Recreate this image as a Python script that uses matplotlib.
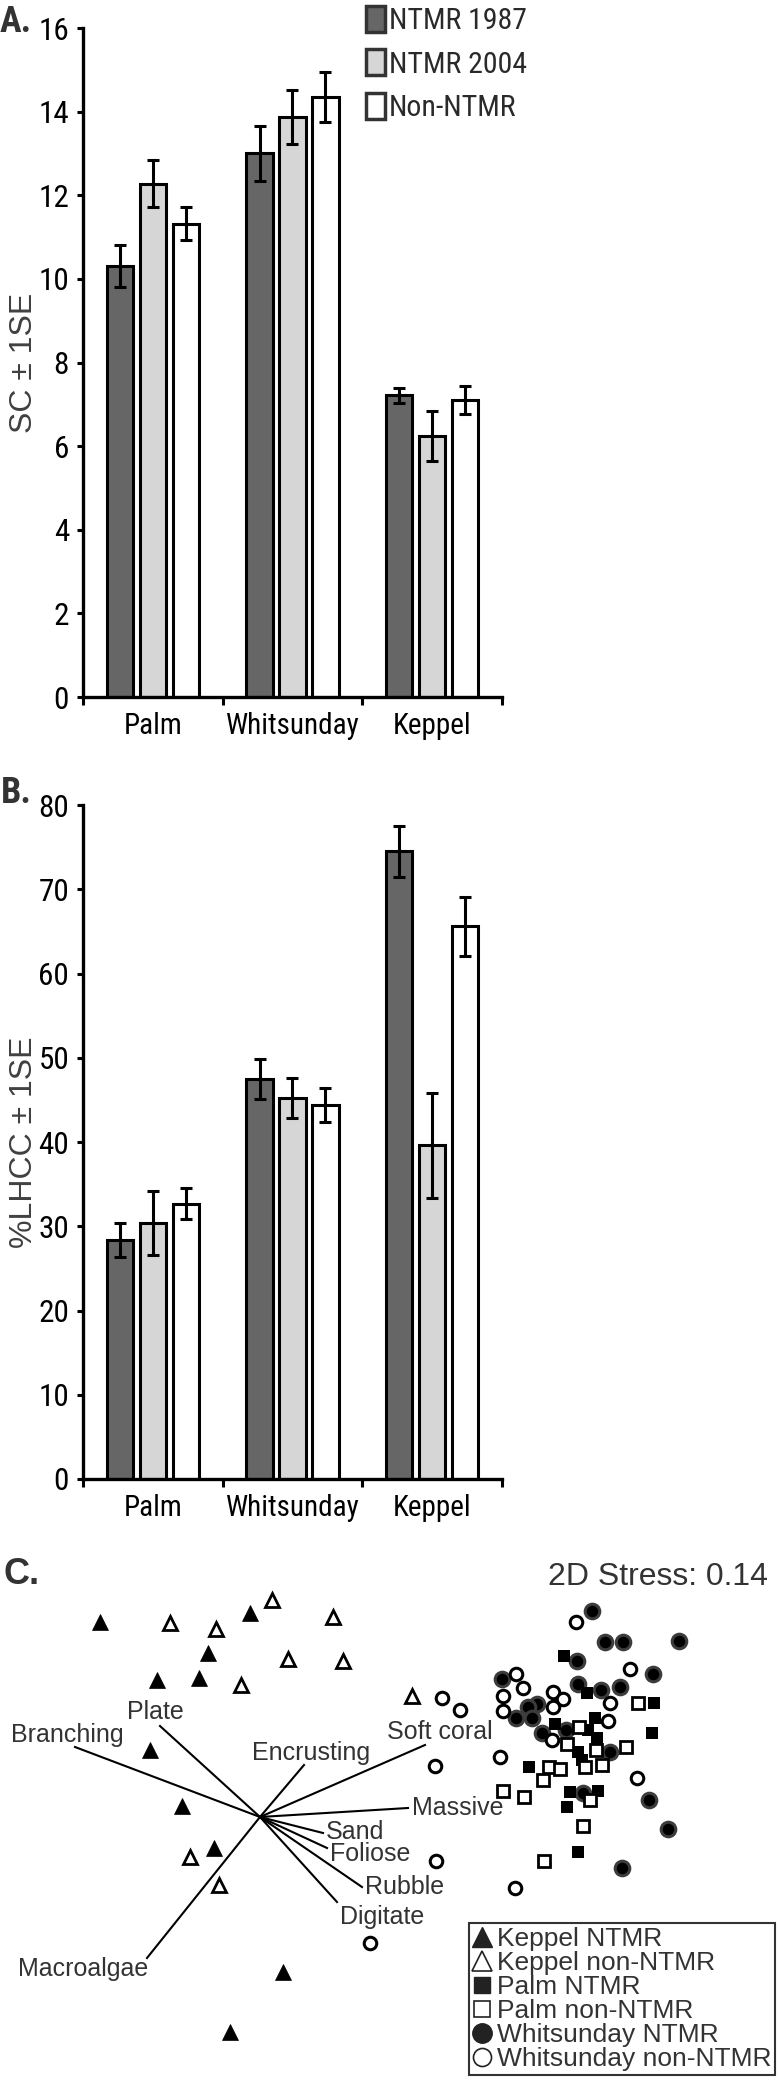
import numpy as np
import matplotlib
matplotlib.use('Agg')
import matplotlib.pyplot as plt
from matplotlib import font_manager
from matplotlib.lines import Line2D
from matplotlib.patches import Patch

# ---- data ----
regions = ['Palm', 'Whitsunday', 'Keppel']
series = ['NTMR 1987', 'NTMR 2004', 'Non-NTMR']

sc_mean = {'NTMR 1987': [10.3, 13.0, 7.22],
           'NTMR 2004': [12.28, 13.87, 6.25],
           'Non-NTMR': [11.32, 14.34, 7.1]}
sc_se = {'NTMR 1987': [0.5, 0.65, 0.18],
         'NTMR 2004': [0.57, 0.65, 0.6],
         'Non-NTMR': [0.4, 0.6, 0.34]}

lhcc_mean = {'NTMR 1987': [28.4, 47.5, 74.5],
             'NTMR 2004': [30.4, 45.2, 39.6],
             'Non-NTMR': [32.7, 44.4, 65.6]}
lhcc_se = {'NTMR 1987': [2.0, 2.4, 3.0],
           'NTMR 2004': [3.8, 2.4, 6.2],
           'Non-NTMR': [1.8, 2.0, 3.5]}

# nMDS ordination (arbitrary units)
keppel_ntmr_x = [-1.60, -0.10, -0.52, -1.03, -0.61, -1.10, -0.78, -0.46, 0.23, -0.30]
keppel_ntmr_y = [1.95, 2.04, 1.64, 1.37, 1.39, 0.67, 0.11, -0.31, -1.55, -2.15]
keppel_non_x = [-0.90, -0.44, 0.12, 0.73, 0.28, 0.83, -0.19, 1.52, -0.70, -0.41]
keppel_non_y = [1.94, 1.88, 2.17, 2.00, 1.58, 1.56, 1.32, 1.21, -0.40, -0.68]
palm_ntmr_x = [3.04, 3.27, 3.94, 3.35, 2.95, 3.28, 3.37, 3.92, 3.18, 3.22, 2.69,
               3.10, 3.38, 3.07, 3.18]
palm_ntmr_y = [1.61, 1.24, 1.14, 0.99, 0.93, 0.87, 0.79, 0.84, 0.65, 0.57, 0.50,
               0.25, 0.26, 0.10, -0.35]
palm_non_x = [3.78, 3.19, 3.07, 3.36, 3.66, 2.89, 3.00, 3.25, 3.42, 2.83, 2.43,
              2.64, 3.30, 3.23, 2.84]
palm_non_y = [1.14, 0.90, 0.73, 0.67, 0.70, 0.50, 0.48, 0.50, 0.52, 0.37, 0.26,
              0.20, 0.17, -0.09, -0.44]
whit_ntmr_x = [3.32, 3.45, 3.63, 4.19, 3.17, 3.93, 2.42, 3.18, 3.41, 3.60, 2.77,
               2.68, 2.56, 2.72, 2.82, 3.06, 3.50, 3.23, 3.89, 4.08, 3.62]
whit_ntmr_y = [2.06, 1.75, 1.75, 1.76, 1.56, 1.43, 1.38, 1.33, 1.27, 1.30, 1.13,
               1.10, 0.99, 0.99, 0.84, 0.87, 0.65, 0.24, 0.17, -0.12, -0.51]
whit_non_x = [3.16, 3.70, 2.56, 2.63, 2.43, 2.43, 2.93, 3.03, 2.93, 3.50, 3.48,
              1.82, 2.00, 2.40, 1.75, 3.77, 2.92, 1.76, 2.55, 1.10]
whit_non_y = [1.95, 1.48, 1.43, 1.29, 1.21, 1.06, 1.25, 1.18, 1.10, 1.14, 0.96,
              1.19, 1.07, 0.60, 0.51, 0.39, 0.77, -0.44, -0.71, -1.26]

vec_names = ['Branching', 'Plate', 'Encrusting', 'Soft coral', 'Massive',
             'Sand', 'Foliose', 'Rubble', 'Digitate', 'Macroalgae']
vec_x = [-1.85, -1.00, 0.44, 1.65, 1.48, 0.63, 0.67, 1.02, 0.77, -1.13]
vec_y = [0.70, 0.91, 0.52, 0.72, 0.09, -0.16, -0.31, -0.70, -0.85, -1.41]
stress = 0.14

# ---- fonts ----
sans = ['Liberation Sans', 'DejaVu Sans']
installed = {f.name for f in font_manager.fontManager.ttflist}
narrow_name, narrow_stretch = None, 'normal'
for n in ['Liberation Sans Narrow', 'Arial Narrow', 'Roboto Condensed',
          'Open Sans Condensed', 'DejaVu Sans Condensed']:
    if n in installed:
        narrow_name = n
        break
if narrow_name is None:
    for f in font_manager.fontManager.ttflist:
        if f.stretch in ('condensed', 'semi-condensed') and f.style == 'normal':
            narrow_name, narrow_stretch = f.name, f.stretch
            break
if narrow_name is None:
    nfam, nsc = sans, 0.9
else:
    nfam, nsc = [narrow_name] + sans, 1.0

# ---- style ----
W, H = 780, 2082
fig = plt.figure(figsize=(W / 100, H / 100), dpi=100)
grey = '#333333'
fills = {'NTMR 1987': '#666666', 'NTMR 2004': '#d6d6d6', 'Non-NTMR': '#ffffff'}


def fig_rect(x0, y0, x1, y1):
    return [x0 / W, 1 - y1 / H, (x1 - x0) / W, (y1 - y0) / H]


def bar_panel(y0, y1, means, ses, ymax, ystep, ylabel):
    ax = fig.add_axes(fig_rect(83, y0, 502, y1))
    x = np.arange(len(regions))
    step, width = 0.236, 0.19
    for i, s in enumerate(series):
        pos = x + (i - 1) * step
        ax.bar(pos, means[s], width, color=fills[s], edgecolor='black',
               linewidth=2.2, zorder=2)
        ax.errorbar(pos, means[s], yerr=ses[s], fmt='none', ecolor='black',
                    elinewidth=2.2, capsize=4, capthick=2.2, zorder=3)
    ax.set_xlim(-0.5, len(regions) - 0.5)
    ax.set_ylim(0, ymax)
    ax.set_yticks(np.arange(0, ymax + 0.1, ystep))
    ax.set_xticks(np.arange(len(regions) + 1) - 0.5)
    ax.set_xticklabels([])
    ax.set_xticks(x, minor=True)
    ax.set_xticklabels(regions, minor=True, family=nfam, stretch=narrow_stretch,
                       fontsize=21 * nsc)
    ax.tick_params(axis='x', which='minor', length=0, pad=11)
    ax.tick_params(axis='x', which='major', direction='out', length=6, width=2.2)
    ax.tick_params(axis='y', direction='out', length=4, width=2.2, pad=6)
    for lab in ax.get_yticklabels():
        lab.set_family(nfam)
        lab.set_stretch(narrow_stretch)
        lab.set_fontsize(22.5 * nsc)
    for sp in ['top', 'right']:
        ax.spines[sp].set_visible(False)
    for sp in ['left', 'bottom']:
        ax.spines[sp].set_linewidth(2.4)
    fig.text(24 / W, 1 - (y0 + y1) / 2 / H, ylabel, rotation=90, ha='center',
             va='center', family=sans, fontsize=23, color='#404040')
    return ax


axA = bar_panel(28, 697, sc_mean, sc_se, 16, 2, 'SC ± 1SE')
axB = bar_panel(805, 1479, lhcc_mean, lhcc_se, 80, 10, '%LHCC ± 1SE')

handles = [Patch(facecolor=fills[s], edgecolor=grey, linewidth=2.5) for s in series]
axA.legend(handles, series, loc='upper left', bbox_to_anchor=(366 / W, 1 - 6 / H),
           bbox_transform=fig.transFigure, frameon=False,
           prop={'family': nfam, 'stretch': narrow_stretch, 'size': 21.5 * nsc},
           labelcolor='#2a2a2a', handlelength=0.62, handleheight=0.95,
           handletextpad=0.15, labelspacing=0.48, borderpad=0, borderaxespad=0)

fig.text(16 / W, 1 - 22 / H, 'A.', family=nfam, stretch=narrow_stretch,
         weight='bold', fontsize=26, color=grey, ha='center', va='center')
fig.text(16 / W, 1 - 793 / H, 'B.', family=nfam, stretch=narrow_stretch,
         weight='bold', fontsize=26, color=grey, ha='center', va='center')
fig.text(22 / W, 1 - 1574 / H, 'C.', family=sans, weight='bold', fontsize=26,
         color=grey, ha='center', va='center')

# ---- panel C: nMDS ----
axC = fig.add_axes(fig_rect(0, 1540, 780, 2082))
axC.set_xlim(-2.6, 5.2)
axC.set_ylim(-2.65, 2.77)
axC.axis('off')

label_place = {  # ha, dx, dy (pixels)
    'Branching': ('center', -8, 12),
    'Plate': ('center', -5, 14),
    'Encrusting': ('center', 7, 12),
    'Soft coral': ('center', 15, 13),
    'Massive': ('left', 4, 0),
    'Sand': ('left', 3, 1),
    'Foliose': ('left', 3, -6),
    'Rubble': ('left', 3, 0),
    'Digitate': ('left', 3, -15),
    'Macroalgae': ('right', 1, -11),
}
for name, vx, vy in zip(vec_names, vec_x, vec_y):
    axC.plot([0, vx], [0, vy], color='black', linewidth=1.5, zorder=1)
    ha, dx, dy = label_place[name]
    axC.annotate(name, (vx, vy), xytext=(dx, dy), textcoords='offset pixels',
                 ha=ha, va='center', family=sans, fontsize=18, color=grey)

axC.plot(keppel_ntmr_x, keppel_ntmr_y, '^', ms=11, color='black', mec='black',
         mew=0.5, ls='none', zorder=3)
axC.plot(keppel_non_x, keppel_non_y, '^', ms=10, mfc='white', mec='black',
         mew=2, ls='none', zorder=3)
axC.plot(whit_ntmr_x, whit_ntmr_y, 'o', ms=10.5, mfc='black', mec='#3c3c3c',
         mew=2.2, ls='none', zorder=3)
axC.plot(palm_ntmr_x, palm_ntmr_y, 's', ms=9, color='black', mew=0, ls='none',
         zorder=4)
axC.plot(palm_non_x, palm_non_y, 's', ms=8, mfc='white', mec='black', mew=2,
         ls='none', zorder=4)
axC.plot(whit_non_x, whit_non_y, 'o', ms=9, mfc='white', mec='black', mew=2.2,
         ls='none', zorder=5)

fig.text(768 / W, 1 - 1577 / H, '2D Stress: {:.2f}'.format(stress), family=sans,
         fontsize=23, color=grey, ha='right', va='center')

leg_handles = [
    Line2D([], [], marker='^', ms=15, color='#222222', ls='none'),
    Line2D([], [], marker='^', ms=14, mfc='white', mec='#222222', mew=1.2, ls='none'),
    Line2D([], [], marker='s', ms=12, color='#222222', ls='none'),
    Line2D([], [], marker='s', ms=11, mfc='white', mec='#222222', mew=1.2, ls='none'),
    Line2D([], [], marker='o', ms=14, color='#222222', ls='none'),
    Line2D([], [], marker='o', ms=13, mfc='white', mec='#222222', mew=1.2, ls='none'),
]
leg_labels = ['Keppel NTMR', 'Keppel non-NTMR', 'Palm NTMR', 'Palm non-NTMR',
              'Whitsunday NTMR', 'Whitsunday non-NTMR']
legC = axC.legend(leg_handles, leg_labels, loc='lower right',
                  bbox_to_anchor=(775 / W, 1 - 2075 / H),
                  bbox_transform=fig.transFigure, prop={'family': sans, 'size': 19},
                  labelcolor=grey, handlelength=0.7, handletextpad=0.2,
                  labelspacing=0.0, borderpad=0.15, borderaxespad=0,
                  fancybox=False, edgecolor=grey, framealpha=1)
legC.get_frame().set_linewidth(1.5)

fig.savefig('out.png', dpi=100)
